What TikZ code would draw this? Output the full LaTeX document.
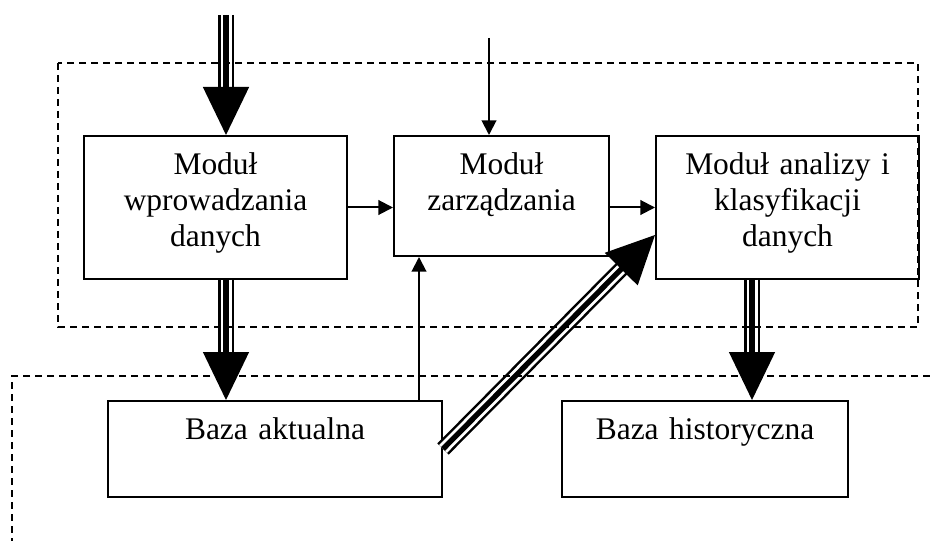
\documentclass[tikz,border=0pt]{standalone}
\usepackage{fontspec}
\setmainfont{Liberation Serif}
\usetikzlibrary{arrows.meta,calc}

\begin{document}
\begin{tikzpicture}[x=0.75pt, y=-0.75pt,
        modul/.style={draw, line width=1.5pt, anchor=north west, inner sep=0pt, align=center, text height=29pt, font=\fontsize{23.6}{27}\selectfont},
        strzalka/.style={line width=1.5pt, -{Triangle[width=11pt, length=11pt]}},
        potrojna/.style={line width=12pt, shorten >=35pt,
            postaction={draw, white, line width=8.25pt, shorten >=35pt},
            postaction={draw, black, line width=4pt, shorten >=35pt},
            postaction={draw, black, line width=1pt, shorten >=0pt, -{Triangle[width=34.5pt, length=36pt]}}},
        ramka/.style={line width=1.5pt, dash pattern=on 5.25pt off 3.75pt}
    ]
        \useasboundingbox (0,0) rectangle (930,541);

        % Moduly
        \node[modul, text width=197.25pt, text depth=78.25pt] (m1) at (83,135) {Moduł\\wprowadzania\\danych};
        \node[modul, text width=161.25pt, text depth=61pt] (m2) at (393,135) {Moduł\\zarządzania};
        \node[modul, text width=197.25pt, text depth=78.25pt] (m3) at (655,135) {Moduł analizy i\\klasyfikacji\\danych};

        % Bazy
        \node[modul, text width=250.5pt, text depth=43pt] (b1) at (107,400) {Baza aktualna};
        \node[modul, text width=214.5pt, text depth=43pt] (b2) at (561,400) {Baza historyczna};

        % Punkty pomocnicze
        \coordinate (we1) at (226,15);
        \coordinate (we2) at (489,38);
        \coordinate (wy3) at ($(m3.south)+(-35.5,0)$);
        \coordinate (wy1) at ($(b1.north east)+(-24,0)$);

        % Strzalki
        \draw[potrojna] (we1) -- (we1 |- m1.north);
        \draw[strzalka] (we2) -- (we2 |- m2.north);
        \draw[strzalka] (m1.east) -- (m1.east -| m2.west);
        \draw[strzalka] (m3.west -| m2.east) -- (m3.west);
        \draw[potrojna] (we1 |- m1.south) -- (we1 |- b1.north);
        \draw[potrojna] (wy3) -- (wy3 |- b2.north);
        \draw[strzalka] (wy1) -- (wy1 |- m2.south);
        \draw[potrojna] (b1.east) -- ($(m3.south west)+(0,-45)$);

        % Obszary
        \draw[ramka] (58,63) rectangle (918,327);
        \draw[ramka] (930,376) -- (12,376) -- (12,541);
    \end{tikzpicture}
\end{document}
